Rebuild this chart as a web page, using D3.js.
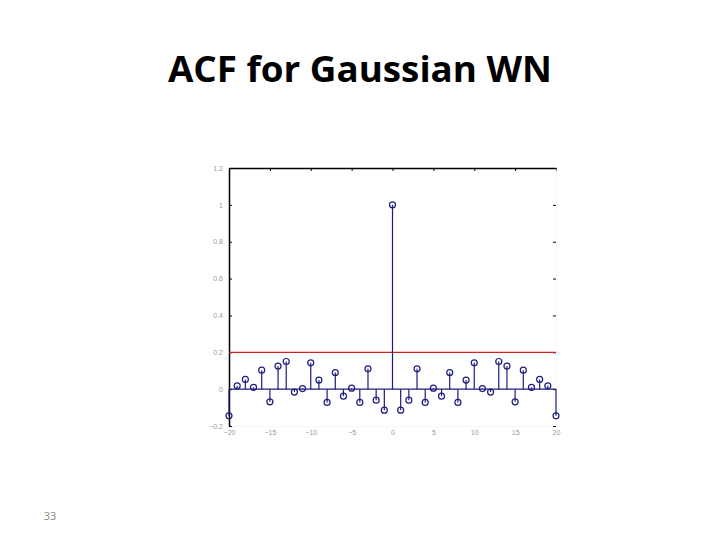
<!DOCTYPE html>
<html><head><meta charset="utf-8">
<script src="https://cdn.jsdelivr.net/npm/d3@7"></script>
<style>body{margin:0;background:#fff}</style>
</head><body>
<script>
const lags = d3.range(-20, 21);
const acf = [-0.145, 0.018, 0.053, 0.010, 0.103, -0.069, 0.125, 0.150, -0.016, 0.003,
  0.143, 0.049, -0.072, 0.090, -0.038, 0.005, -0.072, 0.110, -0.060, -0.114,
  1.000,
  -0.114, -0.060, 0.110, -0.072, 0.005, -0.038, 0.090, -0.072, 0.049, 0.143,
  0.003, -0.016, 0.150, 0.125, -0.069, 0.103, 0.010, 0.053, 0.018, -0.145];
const bound = 0.2;
const xTicks = [-20, -15, -10, -5, 0, 5, 10, 15, 20];
const yTicks = [-0.2, 0, 0.2, 0.4, 0.6, 0.8, 1, 1.2];
const title = "ACF for Gaussian WN";
const pageNum = "33";

const svg = d3.select("body").append("svg").attr("width", 720).attr("height", 540);
const x = d3.scaleLinear().domain([-20, 20]).range([229, 556]);
const y = d3.scaleLinear().domain([-0.2, 1.2]).range([426, 168]);
const navy = "#1c1c7e";

svg.append("text").attr("x", 360).attr("y", 82).attr("text-anchor", "middle")
  .attr("font-family", "Open Sans, sans-serif").attr("font-weight", "bold")
  .attr("font-size", 36).attr("fill", "#000").attr("textLength", 384)
  .attr("lengthAdjust", "spacingAndGlyphs").text(title);

svg.append("text").attr("x", 50).attr("y", 520).attr("text-anchor", "middle")
  .attr("font-family", "Open Sans, sans-serif").attr("font-size", 11)
  .attr("fill", "#888").text(pageNum);

// axes
const xAxis = d3.axisBottom(x).tickValues(xTicks).tickSize(0).tickPadding(4)
  .tickFormat(d => d3.format("d")(d));
const gx = svg.append("g").attr("transform", `translate(0,${y(-0.2)})`).call(xAxis);
gx.select(".domain").attr("stroke", "#eee").attr("stroke-width", 0.5);
gx.selectAll("text").attr("font-family", "Liberation Sans, sans-serif").attr("font-size", 7).attr("fill", "#999");

const yAxis = d3.axisLeft(y).tickValues(yTicks).tickSizeInner(-3).tickSizeOuter(0).tickPadding(6)
  .tickFormat(d => d3.format("~g")(d));
const gy = svg.append("g").attr("transform", `translate(${x(-20)},0)`).call(yAxis);
gy.select(".domain").attr("stroke", "#000").attr("stroke-width", 1.5);
gy.selectAll(".tick line").attr("stroke", "#000");
gy.selectAll("text").attr("font-family", "Liberation Sans, sans-serif").attr("font-size", 7).attr("fill", "#999");

// top border with inward ticks
const gTop = svg.append("g").attr("transform", `translate(0,${y(1.2)})`)
  .call(d3.axisTop(x).tickValues(xTicks).tickSizeInner(-3).tickSizeOuter(0).tickFormat(""));
gTop.select(".domain").attr("stroke", "#000").attr("stroke-width", 1.5);
gTop.selectAll(".tick line").attr("stroke", "#000");

// right ticks
const gRight = svg.append("g").attr("transform", `translate(${x(20)},0)`)
  .call(d3.axisRight(y).tickValues(yTicks).tickSizeInner(-3).tickSizeOuter(0).tickFormat(""));
gRight.select(".domain").attr("stroke", "#eee").attr("stroke-width", 0.5);
gRight.selectAll(".tick line").attr("stroke", "#000");

// red bound
svg.append("line").attr("x1", x(-20)).attr("x2", x(20)).attr("y1", y(bound)).attr("y2", y(bound))
  .attr("stroke", "#d42020").attr("stroke-width", 1.2);

// baseline
svg.append("line").attr("x1", x(-20)).attr("x2", x(20)).attr("y1", y(0)).attr("y2", y(0))
  .attr("stroke", navy).attr("stroke-width", 1.2);

// stems
svg.append("g").selectAll("line").data(lags).join("line")
  .attr("x1", (d) => x(d)).attr("x2", (d) => x(d))
  .attr("y1", y(0)).attr("y2", (d, i) => y(acf[i]))
  .attr("stroke", navy).attr("stroke-width", 1.2);

svg.append("g").selectAll("circle").data(lags).join("circle")
  .attr("cx", (d) => x(d)).attr("cy", (d, i) => y(acf[i])).attr("r", 3)
  .attr("fill", "none").attr("stroke", navy).attr("stroke-width", 1.2);
</script>
</body></html>
